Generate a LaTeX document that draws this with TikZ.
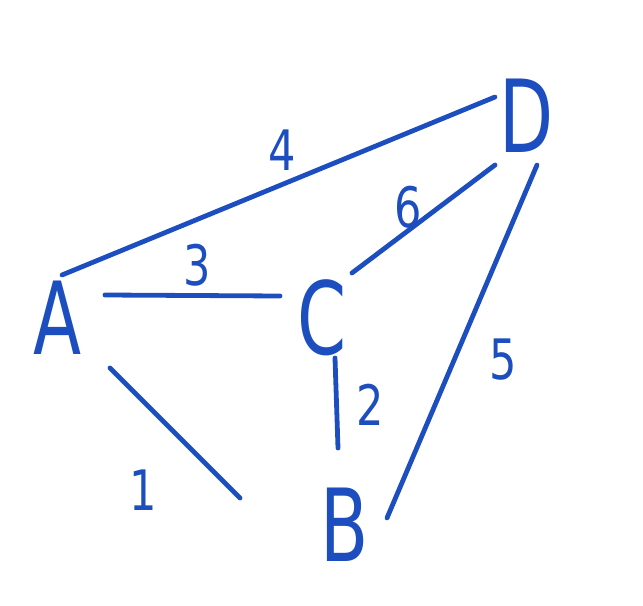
\documentclass[tikz,border=0pt]{standalone}
\usepackage{fontspec}
\setmainfont{DejaVu Sans}
\definecolor{ink}{RGB}{28,78,192}
\begin{document}
\begin{tikzpicture}[x=0.75pt,y=-0.75pt,
  vert/.style={text=ink,font=\fontsize{62}{62}\selectfont,inner sep=0pt,xscale=0.85,yscale=1.22},
  lbl/.style={text=ink,font=\fontsize{38}{38}\selectfont,inner sep=0pt,xscale=0.85,yscale=1.1},
  edge line/.style={draw=ink,line width=3.6pt,line cap=round}]
\useasboundingbox (0,0) rectangle (643,606);
\node[vert] (A) at (58,318) {A};
\node[vert] (C) at (322,318) {C};
\node[vert] (D) at (527,116) {D};
\node[vert] (B) at (345,525) {B};
\draw[edge line] ([shift={(4,-43)}]A.center) -- ([shift={(-32,-19)}]D.center);
\draw[edge line] ([shift={(47,-23)}]A.center) -- ([shift={(-42,-22)}]C.center);
\draw[edge line] ([shift={(30,-45)}]C.center) -- ([shift={(-32,49)}]D.center);
\draw[edge line] ([shift={(13,40)}]C.center) -- ([shift={(-7,-77)}]B.center);
\draw[edge line] ([shift={(52,50)}]A.center) -- ([shift={(-105,-27)}]B.center);
\draw[edge line] ([shift={(10,49)}]D.center) -- ([shift={(42,-7)}]B.center);
\node[lbl] (l4) at (282,150) {4};
\node[lbl] (l3) at (197,265) {3};
\node[lbl] (l6) at (408,207) {6};
\node[lbl] (l2) at (370,405) {2};
\node[lbl] (l1) at (143,490) {1};
\node[lbl] (l5) at (503,360) {5};
\end{tikzpicture}
\end{document}
